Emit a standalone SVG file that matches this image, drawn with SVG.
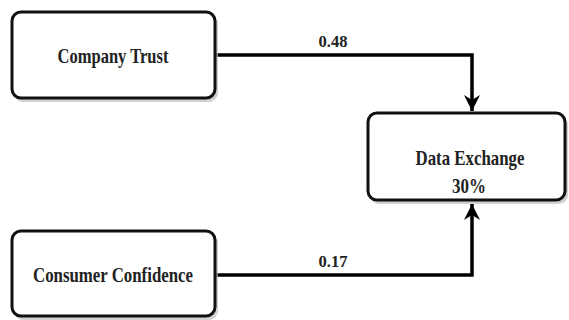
<svg xmlns="http://www.w3.org/2000/svg" width="569" height="320" viewBox="0 0 569 320">
<style>
.shadow{fill:#bdbdbd;stroke:none;opacity:0.7}
.box{fill:#fff;stroke:#111;stroke-width:3}
.lbl{font-family:"Liberation Serif","Times New Roman",serif;font-weight:bold;fill:#222;text-anchor:middle}
.conn{fill:none;stroke:#000;stroke-width:3.5}
</style>
<defs>
<marker id="arr" markerWidth="18" markerHeight="18" viewBox="0 0 18 18" refX="16" refY="9" orient="auto" markerUnits="userSpaceOnUse">
<path d="M0,1 L16,9 L0,17 L5,9 Z" fill="#000"/>
</marker>
</defs>
<rect width="569" height="320" fill="#fff"/>
<g id="connectors">
<path class="conn" d="M215,55 H472 V111" marker-end="url(#arr)"/>
<path class="conn" d="M215,275 H472 V204" marker-end="url(#arr)"/>
<text class="lbl" x="333" y="47" font-size="17" textLength="29" lengthAdjust="spacingAndGlyphs">0.48</text>
<text class="lbl" x="333" y="267" font-size="17" textLength="29" lengthAdjust="spacingAndGlyphs">0.17</text>
</g>
<g id="company-trust">
<rect class="shadow" x="14" y="15" width="204" height="87" rx="9"/>
<rect class="box" x="12" y="12" width="203" height="86" rx="9"/>
<text class="lbl" x="113" y="63" font-size="21" textLength="111" lengthAdjust="spacingAndGlyphs">Company Trust</text>
</g>
<g id="consumer-confidence">
<rect class="shadow" x="14" y="234" width="204" height="86" rx="9"/>
<rect class="box" x="12" y="231" width="203" height="85" rx="9"/>
<text class="lbl" x="113" y="282" font-size="21" textLength="160" lengthAdjust="spacingAndGlyphs">Consumer Confidence</text>
</g>
<g id="data-exchange">
<rect class="shadow" x="370" y="116" width="198" height="88" rx="9"/>
<rect class="box" x="368" y="113" width="197" height="87" rx="9"/>
<text class="lbl" x="470" y="165" font-size="21" textLength="109" lengthAdjust="spacingAndGlyphs">Data Exchange</text>
<text class="lbl" x="469" y="193" font-size="21" textLength="34" lengthAdjust="spacingAndGlyphs">30%</text>
</g>
</svg>
